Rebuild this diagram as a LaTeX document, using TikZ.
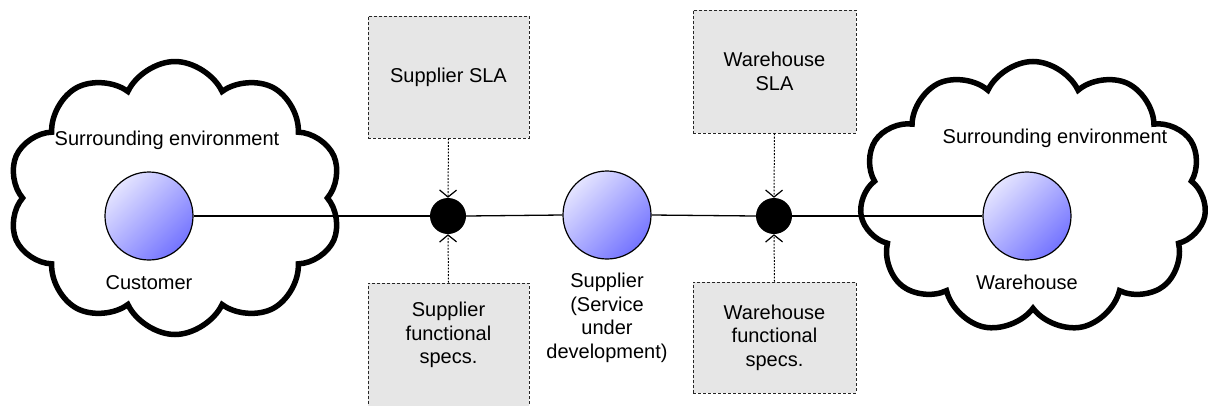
\documentclass[tikz,border=0pt]{standalone}
\usepackage{fontspec}
\setmainfont{Liberation Sans}
\usetikzlibrary{shapes.symbols,arrows.meta}
\definecolor{compLight}{HTML}{E4E4FF}
\definecolor{compDark}{HTML}{7474FF}
\definecolor{boxfill}{HTML}{E6E6E6}
\begin{document}
\begin{tikzpicture}[x=1pt,y=-1pt,
  every node/.style={font=\fontsize{20}{23.5}\selectfont},
  cloudbox/.style={cloud, cloud puffs=10, cloud puff arc=130, draw, line width=5.5pt, fill=white, inner sep=0pt},
  comp/.style={circle, draw, line width=1.2pt, minimum size=88pt, inner sep=0pt,
    left color=compLight, right color=compDark, shading angle=45},
  junction/.style={circle, fill=black, minimum size=36pt, inner sep=0pt},
  specbox/.style={rectangle, draw=black!85, fill=boxfill, line width=0.8pt,
    dash pattern=on 3pt off 2pt, align=center, inner sep=0pt},
  wire/.style={line width=1.3pt},
  dotlink/.style={line width=1pt, dash pattern=on 1.8pt off 1.5pt,
    -{Straight Barb[length=7pt,width=17pt,line width=1.2pt]}},
  lbl/.style={align=center, inner sep=0pt}
]
\useasboundingbox (0,0) rectangle (1208,405);
\clip (0,0) rectangle (1208,405);

% clouds
\node[cloudbox, minimum width=334pt, minimum height=273pt] (envL) at (175,198) {};
\node[cloudbox, cloud puffs=11, minimum width=347pt, minimum height=271pt] (envR) at (1033,197) {};

% components
\node[comp] (cust) at (149,216) {};
\node[comp] (sup) at (607,215) {};
\node[comp] (ware) at (1027,216) {};

% junctions
\node[junction] (j1) at (448,216) {};
\node[junction] (j2) at (774,216) {};

% boxes
\node[specbox, minimum width=161pt, minimum height=122pt] (slaS) at (448.5,77) {Supplier SLA};
\node[specbox, minimum width=161pt, minimum height=140pt] (specS) at (448.5,353) {};
\node[lbl] (specSt) at (448.5,335) {Supplier\\functional\\specs.};
\node[specbox, minimum width=163pt, minimum height=123pt] (slaW) at (774.5,71.5) {Warehouse\\SLA};
\node[specbox, minimum width=163pt, minimum height=111pt] (specW) at (774.5,337.5) {Warehouse\\functional\\specs.};

% labels
\node[lbl] (envLt) at (167,140) {Surrounding environment};
\node[lbl] (envRt) at (1055,138) {Surrounding environment};
\node[lbl] (custt) at (149,283) {Customer};
\node[lbl] (waret) at (1027,282) {Warehouse};
\node[lbl] (supt) at (607,318) {Supplier\\(Service\\under\\development)};

% wires
\draw[wire] (cust.east) -- (j1.west);
\draw[wire] (j1.east) -- (sup.west);
\draw[wire] (sup.east) -- (j2.west);
\draw[wire] (j2.east) -- (ware.west);

% dotted links
\draw[dotlink] (slaS.south) -- (j1.north);
\draw[dotlink] (specS.north) -- (j1.south);
\draw[dotlink] (slaW.south) -- (j2.north);
\draw[dotlink] (specW.north) -- (j2.south);
\end{tikzpicture}
\end{document}
